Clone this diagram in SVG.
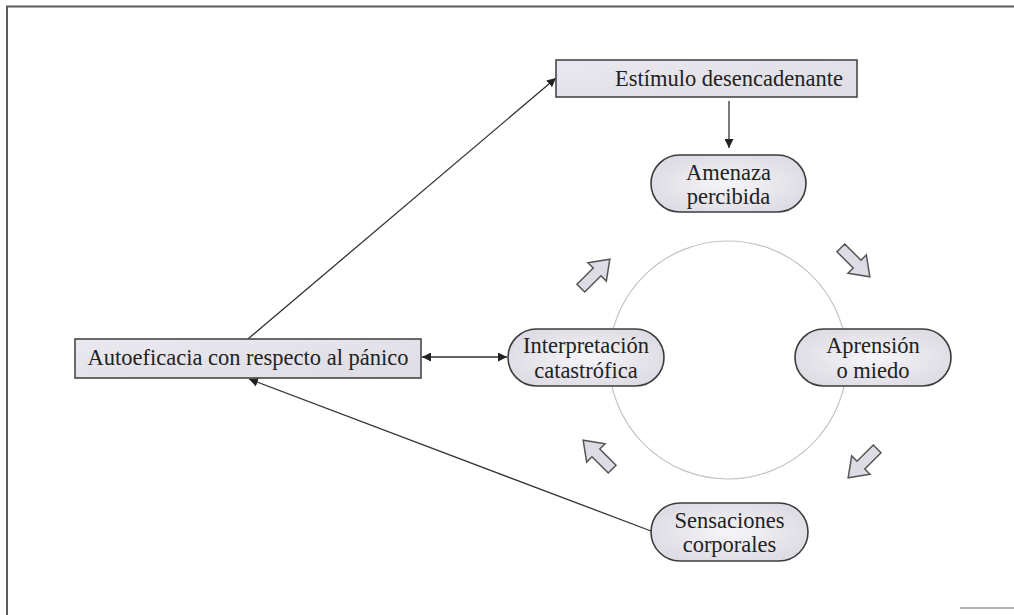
<svg xmlns="http://www.w3.org/2000/svg" width="1014" height="615" viewBox="0 0 1014 615">
  <style>
    .box { fill: url(#boxFill); stroke: #474747; stroke-width: 1.6; }
    .pill { fill: url(#pillFill); stroke: #3c3c3c; stroke-width: 1.6; }
    .label { font-family: "Liberation Serif", "Times New Roman", serif; font-size: 22.5px; fill: #222; text-anchor: middle; }
    .link { stroke: #333; stroke-width: 1.3; fill: none; }
    .cycle { fill: #dddbe3; stroke: #555; stroke-width: 1.5; stroke-linejoin: miter; }
    .frame { stroke: #5a5a5a; stroke-width: 2; fill: none; }
  </style>
  <defs>
    <linearGradient id="boxFill" x1="0" y1="0" x2="1" y2="1">
      <stop offset="0" stop-color="#ebe9ef"/>
      <stop offset="1" stop-color="#dedce4"/>
    </linearGradient>
    <radialGradient id="pillFill" cx="0.5" cy="0.5" r="0.6">
      <stop offset="0" stop-color="#f6f5f8"/>
      <stop offset="1" stop-color="#dcdae2"/>
    </radialGradient>
    <marker id="head" viewBox="0 0 10 10" refX="10" refY="5" markerWidth="9" markerHeight="9" markerUnits="userSpaceOnUse" orient="auto-start-reverse">
      <path d="M0,0 L10,5 L0,10 Z" fill="#222"/>
    </marker>
    <!-- block arrow pointing along +x, centred on the origin -->
    <path id="blockArrow" d="M-20,-5.5 L3,-5.5 L3,-13 L21,0 L3,13 L3,5.5 L-20,5.5 Z"/>
  </defs>

  <rect width="1014" height="615" fill="#ffffff"/>

  <!-- page frame -->
  <path class="frame" d="M7,615 L7,6.5 L1014,6.5"/>
  <path d="M960,608 L1014,608" stroke="#9a9a9a" stroke-width="1.5"/>

  <!-- cycle ring -->
  <circle cx="728" cy="360" r="119" fill="none" stroke="#c4c4c4" stroke-width="1.2"/>

  <!-- cycle arrows -->
  <g id="cycle-arrows">
    <use href="#blockArrow" class="cycle" transform="translate(595,274) rotate(-45)"/>
    <use href="#blockArrow" class="cycle" transform="translate(855,262) rotate(45)"/>
    <use href="#blockArrow" class="cycle" transform="translate(863,463) rotate(135)"/>
    <use href="#blockArrow" class="cycle" transform="translate(598,455) rotate(-135)"/>
  </g>

  <!-- connectors -->
  <g id="connectors">
    <line class="link" x1="729" y1="101" x2="729" y2="148" marker-end="url(#head)"/>
    <line class="link" x1="248" y1="339" x2="556" y2="78" marker-end="url(#head)"/>
    <line class="link" x1="651" y1="531" x2="249" y2="379" marker-end="url(#head)"/>
    <line class="link" x1="422" y1="357" x2="507" y2="357" marker-start="url(#head)" marker-end="url(#head)"/>
  </g>

  <g id="estimulo">
    <rect class="box" x="556" y="60" width="301" height="37"/>
    <text class="label" x="729" y="86">Estímulo desencadenante</text>
  </g>

  <g id="amenaza">
    <rect class="pill" x="651" y="155" width="155" height="57" rx="28.5"/>
    <text class="label" x="728.5" y="180">Amenaza</text>
    <text class="label" x="728.5" y="204">percibida</text>
  </g>

  <g id="aprension">
    <rect class="pill" x="795" y="329" width="156" height="57" rx="28.5"/>
    <text class="label" x="873" y="353">Aprensión</text>
    <text class="label" x="873" y="378">o miedo</text>
  </g>

  <g id="sensaciones">
    <rect class="pill" x="651" y="503" width="157" height="58" rx="29"/>
    <text class="label" x="729.5" y="528">Sensaciones</text>
    <text class="label" x="729.5" y="552">corporales</text>
  </g>

  <g id="interpretacion">
    <rect class="pill" x="508" y="329" width="156" height="57" rx="28.5"/>
    <text class="label" x="586" y="353">Interpretación</text>
    <text class="label" x="586" y="378">catastrófica</text>
  </g>

  <g id="autoeficacia">
    <rect class="box" x="75" y="339" width="346" height="39"/>
    <text class="label" x="248" y="365">Autoeficacia con respecto al pánico</text>
  </g>
</svg>
